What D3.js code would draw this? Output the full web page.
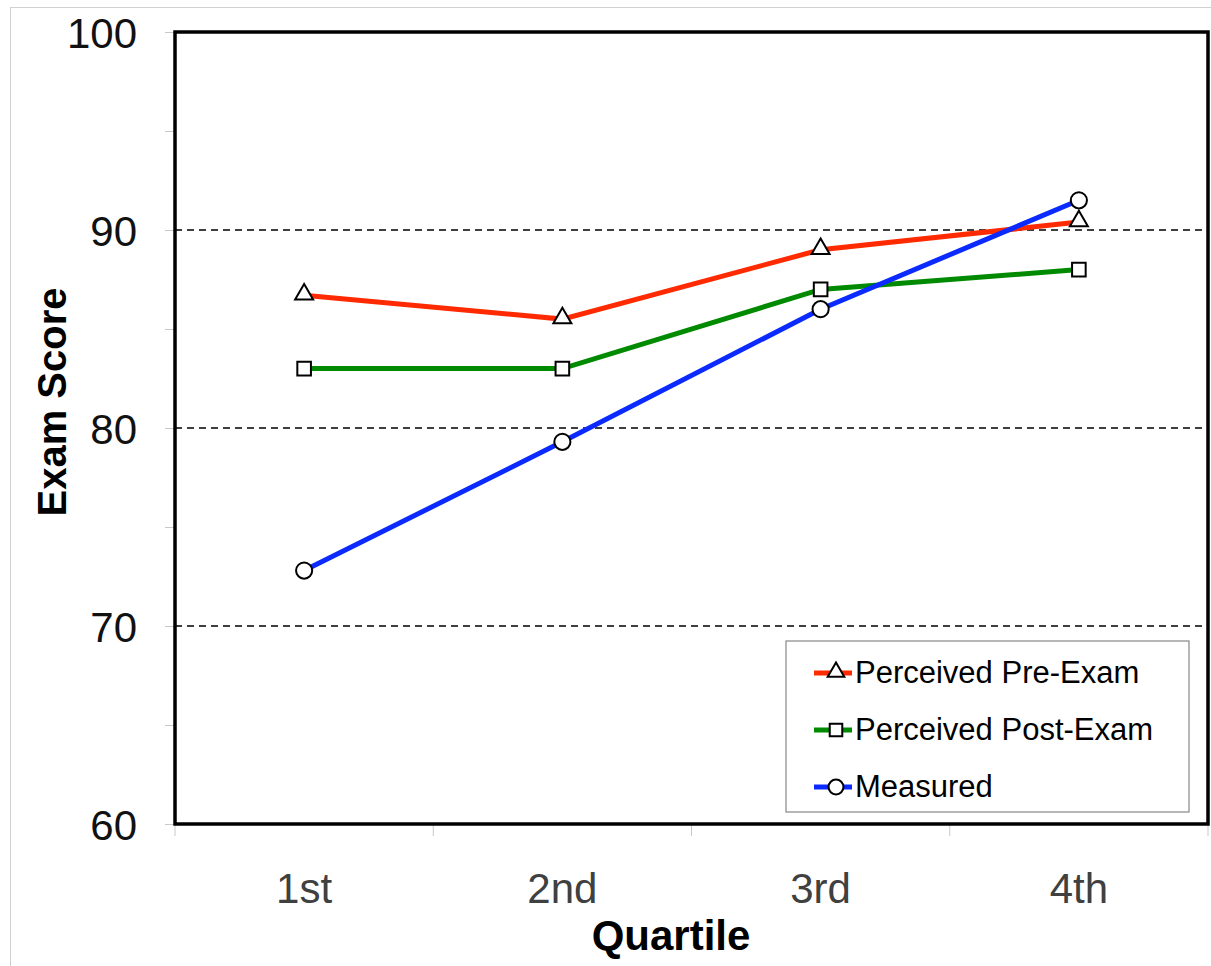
<!DOCTYPE html>
<html><head><meta charset="utf-8">
<script src="https://cdn.jsdelivr.net/npm/d3@7"></script>
<style>body{margin:0;background:#fff;}svg{display:block;font-family:"Liberation Sans",Arial,sans-serif;}</style>
</head><body>
<svg id="c" width="1211" height="966"></svg>
<script>
const categories = ["1st","2nd","3rd","4th"];
const preExam = [86.7, 85.5, 89.0, 90.4];
const postExam = [83.0, 83.0, 87.0, 88.0];
const measured = [72.8, 79.3, 86.0, 91.5];
const seriesNames = ["Perceived Pre-Exam","Perceived Post-Exam","Measured"];
const yTicks = [60,70,80,90,100];
const gridValues = [70,80,90];

const svg = d3.select("#c");
svg.append("rect").attr("x",10.5).attr("y",7.5).attr("width",1250).attr("height",1000)
  .attr("fill","none").attr("stroke","#d0d0d0").attr("stroke-width",1);

const L=175, R=1208, T=32, B=824;
const x = d3.scaleBand().domain(categories).range([L,R]);
const y = d3.scaleLinear().domain([60,100]).range([B,T]);

// minor y ticks
const yAx = d3.axisLeft(y).tickValues(d3.range(60,101,5)).tickSize(10).tickFormat("");
const gy = svg.append("g").attr("transform",`translate(${L},0)`).call(yAx);
gy.select(".domain").remove();
gy.selectAll("line").attr("stroke","#c8c8c8");
// y labels
svg.append("g").selectAll("text").data(yTicks).join("text")
  .attr("x",137).attr("y",d=>y(d)+16).attr("text-anchor","end")
  .attr("font-size",42).attr("fill","#111").text(d=>d);

// x ticks at band boundaries
const bounds = categories.map(c=>x(c)).concat([R]);
svg.append("g").selectAll("line").data(bounds).join("line")
  .attr("x1",d=>d).attr("x2",d=>d).attr("y1",B).attr("y2",B+12)
  .attr("stroke","#c8c8c8");
svg.append("g").selectAll("text").data(categories).join("text")
  .attr("x",d=>x(d)+x.bandwidth()/2).attr("y",903).attr("text-anchor","middle")
  .attr("font-size",42).attr("fill","#404040").text(d=>d);

// grid
svg.append("g").selectAll("line").data(gridValues).join("line")
  .attr("x1",L).attr("x2",R).attr("y1",d=>y(d)).attr("y2",d=>y(d))
  .attr("stroke","#000").attr("stroke-width",1.5).attr("stroke-dasharray","7,5");

// frame
svg.append("rect").attr("x",L).attr("y",T).attr("width",R-L).attr("height",B-T)
  .attr("fill","none").attr("stroke","#000").attr("stroke-width",3.5);

// titles
svg.append("text").attr("x",671).attr("y",950).attr("text-anchor","middle")
  .attr("font-size",42).attr("font-weight","bold").text("Quartile");
svg.append("text").attr("transform",`translate(66,402) rotate(-90)`).attr("text-anchor","middle")
  .attr("font-size",40).attr("font-weight","bold").text("Exam Score");

const cx = d=>x(d)+x.bandwidth()/2;
const series = [
  {name:seriesNames[0], vals:preExam, color:"#ff2a00", sym:d3.symbolTriangle, size:140},
  {name:seriesNames[1], vals:postExam, color:"#008a00", sym:d3.symbolSquare, size:185},
  {name:seriesNames[2], vals:measured, color:"#0a2aff", sym:d3.symbolCircle, size:205},
];
const line = d3.line().x((d,i)=>cx(categories[i])).y(d=>y(d));
series.forEach(s=>{
  svg.append("path").datum(s.vals).attr("d",line).attr("fill","none")
    .attr("stroke",s.color).attr("stroke-width",5);
});
series.forEach(s=>{
  svg.append("g").selectAll("path").data(s.vals).join("path")
    .attr("transform",(d,i)=>`translate(${cx(categories[i])},${y(d)+(s.sym===d3.symbolTriangle?-1:0)})`)
    .attr("d",d3.symbol().type(s.sym).size(s.size))
    .attr("fill","#fff").attr("stroke","#000").attr("stroke-width",2);
});

// legend
const lg = svg.append("g");
lg.append("rect").attr("x",786).attr("y",641).attr("width",403).attr("height",171)
  .attr("fill","#fff").attr("stroke","#888").attr("stroke-width",1.2);
series.forEach((s,i)=>{
  const yy = 673 + i*57;
  lg.append("line").attr("x1",814).attr("x2",852).attr("y1",yy).attr("y2",yy)
    .attr("stroke",s.color).attr("stroke-width",5);
  lg.append("path").attr("transform",`translate(836,${yy+(s.sym===d3.symbolTriangle?-1:0)})`)
    .attr("d",d3.symbol().type(s.sym).size(s.size*0.85))
    .attr("fill","#fff").attr("stroke","#000").attr("stroke-width",2);
  lg.append("text").attr("x",855).attr("y",yy+10).attr("font-size",31).attr("fill","#000").text(s.name);
});
</script>
</body></html>
